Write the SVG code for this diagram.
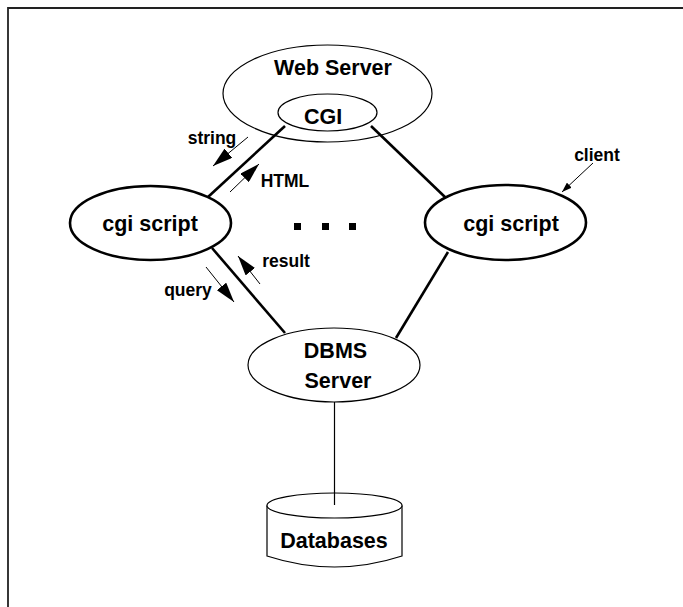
<svg xmlns="http://www.w3.org/2000/svg" width="683" height="607" viewBox="0 0 683 607">
<style>
text{font-family:"Liberation Sans",Arial,sans-serif;font-weight:bold;fill:#000;text-anchor:middle}
.big{font-size:21.5px}
.sm{font-size:17.5px}
.thin{fill:#fff;stroke:#000;stroke-width:1.2}
.open{fill:none;stroke:#000;stroke-width:1.2}
.thick{fill:#fff;stroke:#000;stroke-width:2.6}
.conn{stroke:#000;stroke-width:2.6;fill:none}
.arr{stroke:#000;stroke-width:1;fill:none}
</style>
<defs>
<marker id="ah" markerUnits="userSpaceOnUse" markerWidth="20" markerHeight="12" refX="20" refY="6" orient="auto">
<path d="M0,0 L20,6 L0,12 z" fill="#000"/>
</marker>
<marker id="ahs" markerUnits="userSpaceOnUse" markerWidth="10" markerHeight="7" refX="10" refY="3.5" orient="auto">
<path d="M0,0 L10,3.5 L0,7 z" fill="#000"/>
</marker>
</defs>
<rect width="683" height="607" fill="#fff"/>
<path d="M8,607 V8 H683" fill="none" stroke="#222" stroke-width="1.8"/>
<g id="webserver">
<ellipse class="open" cx="327.5" cy="93.5" rx="104.5" ry="48.5"/>
<text class="big" x="333" y="75">Web Server</text>
</g>
<g id="connectors">
<line class="conn" x1="208" y1="197" x2="285" y2="126"/>
<line class="conn" x1="371" y1="126" x2="446" y2="198"/>
<line class="conn" x1="212" y1="248" x2="285" y2="333"/>
<line class="conn" x1="448" y1="252" x2="396" y2="338"/>
<line stroke="#000" stroke-width="1.2" x1="334.5" y1="402" x2="334.5" y2="505"/>
<line class="arr" x1="248" y1="137" x2="213" y2="166" marker-end="url(#ah)"/>
<line class="arr" x1="230" y1="192" x2="259" y2="164" marker-end="url(#ah)"/>
<line class="arr" x1="260" y1="284" x2="238" y2="256" marker-end="url(#ah)"/>
<line class="arr" x1="206" y1="267" x2="234" y2="302" marker-end="url(#ah)"/>
<line class="arr" x1="593" y1="163" x2="562" y2="192" marker-end="url(#ahs)"/>
<text class="sm" x="212" y="144">string</text>
<text class="sm" x="285" y="187">HTML</text>
<text class="sm" x="286" y="267">result</text>
<text class="sm" x="188" y="296">query</text>
<text class="sm" x="597" y="161">client</text>
</g>
<g id="cgi">
<ellipse class="thin" cx="327.5" cy="112.5" rx="49.5" ry="18.5"/>
<text class="big" x="323" y="124">CGI</text>
</g>
<g id="cgiscript1">
<ellipse class="thick" cx="150.5" cy="223" rx="80.5" ry="37"/>
<text class="big" x="150" y="231">cgi script</text>
</g>
<g id="cgiscript2">
<ellipse class="thick" cx="505.5" cy="222.5" rx="80.5" ry="37.5"/>
<text class="big" x="511" y="231">cgi script</text>
</g>
<g id="dots">
<rect x="294" y="223" width="7" height="7" fill="#000"/>
<rect x="322" y="223" width="7" height="7" fill="#000"/>
<rect x="349" y="223" width="7" height="7" fill="#000"/>
</g>
<g id="dbms">
<ellipse class="thin" cx="334" cy="365" rx="86" ry="37"/>
<text class="big" x="335.5" y="358">DBMS</text>
<text class="big" x="338" y="388">Server</text>
</g>
<g id="databases">
<path class="thin" d="M267,505.5 V556 Q334.5,578 402,556 V505.5"/>
<ellipse class="thin" cx="334.5" cy="505.5" rx="67.5" ry="12.5"/>
<line stroke="#000" stroke-width="1.2" x1="334.5" y1="493" x2="334.5" y2="505"/>
<text class="big" x="334" y="548">Databases</text>
</g>
</svg>
